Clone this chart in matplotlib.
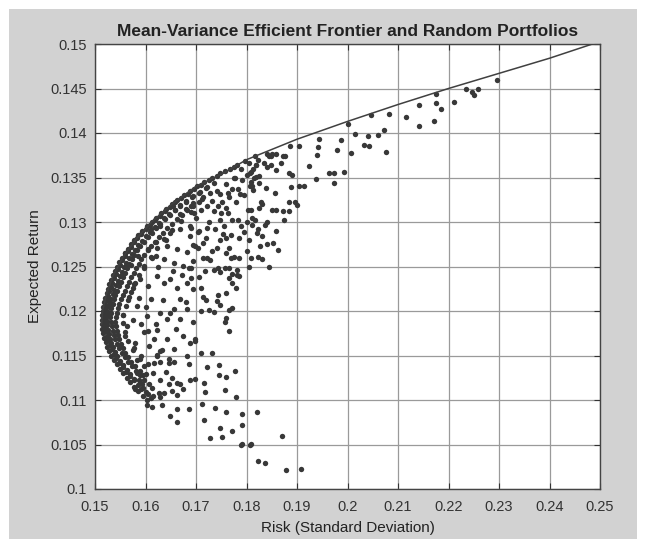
import matplotlib
matplotlib.use('Agg')
import matplotlib.pyplot as plt
from matplotlib.patches import Rectangle

# efficient frontier (risk, return)
frontier_risk = [0.1513, 0.1515, 0.1523, 0.1536, 0.1555, 0.1580, 0.1612, 0.1652, 0.1700,
                 0.1755, 0.1800, 0.1900, 0.2000, 0.2100, 0.2200, 0.2300, 0.2400, 0.2485]
frontier_ret = [0.1185, 0.1200, 0.1220, 0.1240, 0.1260, 0.1280, 0.1300, 0.1320, 0.1340,
                0.1355, 0.1370, 0.1393, 0.1413, 0.1432, 0.1450, 0.1467, 0.1484, 0.1500]

# dense band of portfolios hugging the frontier
band_risk = [
    0.1602, 0.1610,
    0.1595, 0.1604, 0.1615,
    0.1586, 0.1592, 0.1600, 0.1612,
    0.1578, 0.1585, 0.1596, 0.1606,
    0.1570, 0.1577, 0.1589, 0.1598,
    0.1563, 0.1569, 0.1578, 0.1590,
    0.1556, 0.1561, 0.1570, 0.1582, 0.1596,
    0.1549, 0.1555, 0.1563, 0.1574, 0.1590,
    0.1543, 0.1548, 0.1556, 0.1566, 0.1580,
    0.1537, 0.1542, 0.1550, 0.1559, 0.1572, 0.1590,
    0.1532, 0.1537, 0.1544, 0.1553, 0.1566,
    0.1528, 0.1533, 0.1540, 0.1548, 0.1560, 0.1575,
    0.1524, 0.1529, 0.1535, 0.1543, 0.1555,
    0.1521, 0.1526, 0.1532, 0.1540, 0.1551, 0.1566,
    0.1518, 0.1523, 0.1529, 0.1537, 0.1548,
    0.1516, 0.1521, 0.1527, 0.1535, 0.1545, 0.1560,
    0.1514, 0.1519, 0.1525, 0.1533, 0.1543,
    0.1513, 0.1518, 0.1524, 0.1531, 0.1541, 0.1556,
    0.1513, 0.1517, 0.1523, 0.1530, 0.1540,
    0.1514, 0.1518, 0.1523, 0.1531, 0.1542, 0.1555,
    0.1515, 0.1519, 0.1525, 0.1532, 0.1544,
    0.1516, 0.1521, 0.1527, 0.1535, 0.1546, 0.1562,
    0.1518, 0.1523, 0.1529, 0.1537, 0.1548,
    0.1520, 0.1525, 0.1532, 0.1540, 0.1552, 0.1568,
    0.1523, 0.1528, 0.1535, 0.1544, 0.1556,
    0.1525, 0.1531, 0.1538, 0.1548, 0.1560, 0.1575,
    0.1528, 0.1534, 0.1541, 0.1551, 0.1563, 0.1580,
    0.1531, 0.1537, 0.1545, 0.1555, 0.1568,
    0.1535, 0.1541, 0.1549, 0.1559, 0.1572, 0.1588,
    0.1539, 0.1545, 0.1553, 0.1563, 0.1577,
    0.1543, 0.1549, 0.1557, 0.1568, 0.1582, 0.1598,
    0.1548, 0.1554, 0.1562, 0.1573, 0.1587,
    0.1553, 0.1559, 0.1567, 0.1578, 0.1592, 0.1610,
    0.1559, 0.1565, 0.1573, 0.1584, 0.1598,
    0.1565, 0.1571, 0.1579, 0.1590, 0.1604, 0.1622,
    0.1571, 0.1577, 0.1586, 0.1597, 0.1611,
    0.1578, 0.1584, 0.1593, 0.1604, 0.1618, 0.1636,
    0.1586, 0.1592, 0.1601, 0.1612, 0.1626,
    0.1594, 0.1600, 0.1609, 0.1620, 0.1634, 0.1652,
    0.1602, 0.1609, 0.1618, 0.1629, 0.1643,
    0.1612, 0.1618, 0.1627, 0.1638, 0.1652, 0.1670,
    0.1621, 0.1628, 0.1637, 0.1648, 0.1662,
    0.1631, 0.1638, 0.1647, 0.1658, 0.1672, 0.1690,
    0.1641, 0.1648, 0.1658, 0.1669, 0.1683,
    0.1652, 0.1659, 0.1669, 0.1680, 0.1694,
    0.1663, 0.1671, 0.1681, 0.1692, 0.1706,
    0.1676, 0.1684, 0.1694, 0.1705,
    0.1689, 0.1697, 0.1707, 0.1720,
    0.1702, 0.1710, 0.1721,
    0.1716, 0.1725, 0.1736,
    0.1732, 0.1741,
    0.1748, 0.1757,
    0.1768, 0.1776,
    0.1782,
    0.1798,
    0.1817,
]
band_ret = [
    0.1100, 0.1102,
    0.1105, 0.1107, 0.1104,
    0.1110, 0.1112, 0.1109, 0.1113,
    0.1115, 0.1117, 0.1114, 0.1118,
    0.1120, 0.1122, 0.1119, 0.1123,
    0.1125, 0.1127, 0.1124, 0.1128,
    0.1130, 0.1132, 0.1129, 0.1133, 0.1128,
    0.1135, 0.1137, 0.1134, 0.1138, 0.1133,
    0.1140, 0.1142, 0.1139, 0.1143, 0.1138,
    0.1145, 0.1147, 0.1144, 0.1148, 0.1143, 0.1146,
    0.1150, 0.1152, 0.1149, 0.1153, 0.1148,
    0.1155, 0.1157, 0.1154, 0.1158, 0.1153, 0.1156,
    0.1160, 0.1162, 0.1159, 0.1163, 0.1158,
    0.1165, 0.1167, 0.1164, 0.1168, 0.1163, 0.1166,
    0.1170, 0.1172, 0.1169, 0.1173, 0.1168,
    0.1175, 0.1177, 0.1174, 0.1178, 0.1173, 0.1176,
    0.1180, 0.1182, 0.1179, 0.1183, 0.1178,
    0.1185, 0.1187, 0.1184, 0.1188, 0.1183, 0.1186,
    0.1190, 0.1192, 0.1189, 0.1193, 0.1188,
    0.1195, 0.1197, 0.1194, 0.1198, 0.1193, 0.1196,
    0.1200, 0.1202, 0.1199, 0.1203, 0.1198,
    0.1205, 0.1207, 0.1204, 0.1208, 0.1203, 0.1206,
    0.1210, 0.1212, 0.1209, 0.1213, 0.1208,
    0.1215, 0.1217, 0.1214, 0.1218, 0.1213, 0.1216,
    0.1220, 0.1222, 0.1219, 0.1223, 0.1218,
    0.1225, 0.1227, 0.1224, 0.1228, 0.1223, 0.1226,
    0.1230, 0.1232, 0.1229, 0.1233, 0.1228, 0.1231,
    0.1235, 0.1237, 0.1234, 0.1238, 0.1233,
    0.1240, 0.1242, 0.1239, 0.1243, 0.1238, 0.1241,
    0.1245, 0.1247, 0.1244, 0.1248, 0.1243,
    0.1250, 0.1252, 0.1249, 0.1253, 0.1248, 0.1251,
    0.1255, 0.1257, 0.1254, 0.1258, 0.1253,
    0.1260, 0.1262, 0.1259, 0.1263, 0.1258, 0.1261,
    0.1265, 0.1267, 0.1264, 0.1268, 0.1263,
    0.1270, 0.1272, 0.1269, 0.1273, 0.1268, 0.1271,
    0.1275, 0.1277, 0.1274, 0.1278, 0.1273,
    0.1280, 0.1282, 0.1279, 0.1283, 0.1278, 0.1281,
    0.1285, 0.1287, 0.1284, 0.1288, 0.1283,
    0.1290, 0.1292, 0.1289, 0.1293, 0.1288, 0.1291,
    0.1295, 0.1297, 0.1294, 0.1298, 0.1293,
    0.1300, 0.1302, 0.1299, 0.1303, 0.1298, 0.1301,
    0.1305, 0.1307, 0.1304, 0.1308, 0.1303,
    0.1310, 0.1312, 0.1309, 0.1313, 0.1308, 0.1311,
    0.1315, 0.1317, 0.1314, 0.1318, 0.1313,
    0.1320, 0.1322, 0.1319, 0.1323, 0.1318,
    0.1325, 0.1327, 0.1324, 0.1328, 0.1323,
    0.1330, 0.1332, 0.1329, 0.1333,
    0.1335, 0.1337, 0.1334, 0.1338,
    0.1340, 0.1342, 0.1339,
    0.1345, 0.1347, 0.1344,
    0.1350, 0.1352,
    0.1355, 0.1357,
    0.1360, 0.1362,
    0.1364,
    0.1369,
    0.1374,
]

# scattered random portfolios away from the frontier
rand_risk = [
    0.1699, 0.1709, 0.1732, 0.1686, 0.1722, 0.1745, 0.1778, 0.1745, 0.1760, 0.1689,
    0.1699, 0.1715, 0.1718, 0.1758, 0.1780, 0.1686, 0.1712, 0.1738, 0.1760, 0.1791,
    0.1821, 0.1715, 0.1791, 0.1747, 0.1771, 0.1728, 0.1751, 0.1791, 0.1808, 0.1870,
    0.1790, 0.1807, 0.1823, 0.1836, 0.1879, 0.1907,
    0.2296, 0.2234, 0.2247, 0.2250, 0.2258, 0.2210, 0.2175, 0.2185, 0.2175, 0.2142,
    0.2116, 0.2083, 0.2141, 0.2172, 0.2073, 0.2060, 0.2040, 0.2015, 0.2033, 0.2043,
    0.2076, 0.2007, 0.2001, 0.2046, 0.1987, 0.1980, 0.1944, 0.1942, 0.1940, 0.1904,
    0.1887, 0.1877, 0.1858, 0.1848, 0.1841, 0.1848, 0.1818, 0.1923, 0.1891, 0.1964,
    0.1974, 0.1993, 0.1937, 0.1974, 0.1904, 0.1914, 0.1825, 0.1815, 0.1811, 0.1808,
    0.1897, 0.1900, 0.1831, 0.1858, 0.1884, 0.1825, 0.1808, 0.1811,
    0.1852, 0.1827, 0.1830, 0.1836, 0.1823, 0.1808, 0.1804, 0.1785, 0.1785, 0.1782,
    0.1795, 0.1785, 0.1801, 0.1766, 0.1760, 0.1770, 0.1776, 0.1766, 0.1772, 0.1782,
    0.1766, 0.1772, 0.1779, 0.1760, 0.1744, 0.1741, 0.1747, 0.1766, 0.1772, 0.1757,
    0.1760, 0.1766, 0.1725, 0.1735, 0.1713, 0.1719, 0.1709, 0.1744, 0.1735, 0.1747,
    0.1757, 0.1728, 0.1722, 0.1713, 0.1741, 0.1732, 0.1754, 0.1760, 0.1747, 0.1719,
    0.1713, 0.1703, 0.1694, 0.1691, 0.1703, 0.1722, 0.1691, 0.1687, 0.1811, 0.1820,
    0.1872, 0.1884, 0.1844, 0.1850, 0.1834, 0.1819, 0.1813, 0.1806, 0.1800, 0.1791,
    0.1809, 0.1778, 0.1772, 0.1784, 0.1788, 0.1806, 0.1819, 0.1763, 0.1747, 0.1741,
    0.1728, 0.1731, 0.1744, 0.1759, 0.1713, 0.1709, 0.1697, 0.1691, 0.1803, 0.1816,
    0.1800, 0.1772, 0.1784, 0.1828, 0.1850, 0.1872, 0.1884, 0.1888, 0.1856, 0.1750,
    0.1763,
    0.1603, 0.1613, 0.1633, 0.1646, 0.1662, 0.1652, 0.1662, 0.1636, 0.1626, 0.1629,
    0.1669, 0.1674, 0.1649, 0.1662, 0.1662, 0.1616, 0.1629, 0.1646, 0.1656, 0.1623,
    0.1633, 0.1584, 0.1597, 0.1600, 0.1587, 0.1593, 0.1580, 0.1584,
    0.1623, 0.1636, 0.1649, 0.1662, 0.1682, 0.1669, 0.1656, 0.1629, 0.1642, 0.1623,
    0.1616, 0.1642, 0.1629, 0.1656, 0.1669, 0.1682, 0.1688, 0.1682, 0.1698, 0.1610,
    0.1603, 0.1597, 0.1607, 0.1623, 0.1646,
    0.1610, 0.1629, 0.1649, 0.1669, 0.1688, 0.1620, 0.1642, 0.1662, 0.1682, 0.1698,
    0.1613, 0.1636, 0.1656, 0.1675, 0.1695, 0.1571, 0.1584, 0.1564, 0.1580,
]
rand_ret = [
    0.1166, 0.1153, 0.1153, 0.1141, 0.1137, 0.1139, 0.1133, 0.1128, 0.1126, 0.1122,
    0.1124, 0.1119, 0.1109, 0.1111, 0.1103, 0.1090, 0.1095, 0.1091, 0.1086, 0.1084,
    0.1086, 0.1078, 0.1072, 0.1069, 0.1065, 0.1057, 0.1058, 0.1051, 0.1051, 0.1060,
    0.1049, 0.1049, 0.1032, 0.1029, 0.1021, 0.1022,
    0.1459, 0.1449, 0.1446, 0.1443, 0.1450, 0.1435, 0.1434, 0.1427, 0.1444, 0.1432,
    0.1418, 0.1421, 0.1408, 0.1414, 0.1403, 0.1398, 0.1397, 0.1399, 0.1386, 0.1385,
    0.1379, 0.1378, 0.1410, 0.1420, 0.1392, 0.1381, 0.1393, 0.1384, 0.1375, 0.1385,
    0.1385, 0.1374, 0.1376, 0.1374, 0.1376, 0.1364, 0.1364, 0.1363, 0.1353, 0.1355,
    0.1355, 0.1356, 0.1348, 0.1344, 0.1341, 0.1341, 0.1352, 0.1349, 0.1341, 0.1356,
    0.1322, 0.1319, 0.1320, 0.1314, 0.1312, 0.1316, 0.1314, 0.1305,
    0.1276, 0.1273, 0.1284, 0.1297, 0.1261, 0.1259, 0.1250, 0.1259, 0.1239, 0.1241,
    0.1289, 0.1282, 0.1267, 0.1271, 0.1265, 0.1259, 0.1261, 0.1248, 0.1242, 0.1246,
    0.1237, 0.1231, 0.1226, 0.1220, 0.1218, 0.1211, 0.1207, 0.1201, 0.1203, 0.1188,
    0.1192, 0.1177, 0.1201, 0.1199, 0.1216, 0.1212, 0.1226, 0.1248, 0.1246, 0.1244,
    0.1248, 0.1257, 0.1259, 0.1259, 0.1271, 0.1267, 0.1286, 0.1282, 0.1280, 0.1282,
    0.1276, 0.1271, 0.1274, 0.1293, 0.1289, 0.1293, 0.1237, 0.1248, 0.1297, 0.1288,
    0.1374, 0.1355, 0.1374, 0.1376, 0.1366, 0.1364, 0.1359, 0.1355, 0.1353, 0.1347,
    0.1345, 0.1349, 0.1337, 0.1337, 0.1331, 0.1341, 0.1351, 0.1333, 0.1331, 0.1335,
    0.1333, 0.1324, 0.1318, 0.1316, 0.1328, 0.1314, 0.1310, 0.1318, 0.1314, 0.1302,
    0.1300, 0.1302, 0.1302, 0.1322, 0.1314, 0.1312, 0.1322, 0.1339, 0.1333, 0.1310,
    0.1310,
    0.1094, 0.1092, 0.1094, 0.1118, 0.1119, 0.1110, 0.1106, 0.1108, 0.1108, 0.1103,
    0.1118, 0.1112, 0.1082, 0.1090, 0.1075, 0.1142, 0.1143, 0.1142, 0.1143, 0.1151,
    0.1156, 0.1145, 0.1138, 0.1129, 0.1123, 0.1118, 0.1112, 0.1130,
    0.1239, 0.1232, 0.1236, 0.1226, 0.1232, 0.1213, 0.1202, 0.1198, 0.1191, 0.1179,
    0.1168, 0.1168, 0.1155, 0.1157, 0.1191, 0.1202, 0.1164, 0.1149, 0.1168, 0.1213,
    0.1194, 0.1176, 0.1161, 0.1149, 0.1146,
    0.1292, 0.1296, 0.1288, 0.1292, 0.1284, 0.1277, 0.1273, 0.1270, 0.1266, 0.1273,
    0.1260, 0.1258, 0.1254, 0.1251, 0.1256, 0.1221, 0.1206, 0.1183, 0.1164,
]

# more portfolios filling the crowded middle of the cloud
extra_risk = [
    0.1655, 0.1668, 0.1680, 0.1695, 0.1712, 0.1722, 0.1700, 0.1688, 0.1705, 0.1725,
    0.1738, 0.1748, 0.1735, 0.1752, 0.1765, 0.1780, 0.1795, 0.1812, 0.1825, 0.1838,
    0.1760, 0.1776, 0.1790, 0.1805, 0.1823, 0.1840, 0.1858, 0.1868, 0.1755, 0.1770,
    0.1790, 0.1805, 0.1822, 0.1840, 0.1858, 0.1875, 0.1840, 0.1862, 0.1830, 0.1845,
    0.1560, 0.1572, 0.1585, 0.1598, 0.1590, 0.1605, 0.1578, 0.1565, 0.1588, 0.1600,
    0.1556, 0.1575, 0.1592, 0.1605, 0.1560, 0.1578, 0.1592, 0.1605, 0.1615, 0.1628,
    0.1640, 0.1652, 0.1620, 0.1635, 0.1648, 0.1660, 0.1675, 0.1655, 0.1672, 0.1690,
    0.1705, 0.1718, 0.1695, 0.1710, 0.1695, 0.1680, 0.1620, 0.1605, 0.1640, 0.1625,
]
extra_ret = [
    0.1318, 0.1309, 0.1315, 0.1321, 0.1326, 0.1318, 0.1305, 0.1296, 0.1290, 0.1300,
    0.1292, 0.1302, 0.1312, 0.1322, 0.1328, 0.1322, 0.1330, 0.1336, 0.1344, 0.1338,
    0.1343, 0.1349, 0.1360, 0.1366, 0.1370, 0.1362, 0.1358, 0.1366, 0.1295, 0.1285,
    0.1295, 0.1280, 0.1292, 0.1300, 0.1290, 0.1302, 0.1275, 0.1268, 0.1258, 0.1250,
    0.1265, 0.1252, 0.1262, 0.1248, 0.1236, 0.1228, 0.1230, 0.1212, 0.1215, 0.1205,
    0.1195, 0.1190, 0.1185, 0.1178, 0.1172, 0.1158, 0.1150, 0.1140, 0.1130, 0.1122,
    0.1132, 0.1125, 0.1185, 0.1212, 0.1198, 0.1180, 0.1172, 0.1245, 0.1240, 0.1248,
    0.1238, 0.1245, 0.1225, 0.1200, 0.1188, 0.1210, 0.1262, 0.1270, 0.1280, 0.1250,
]

x_ticks = [0.15, 0.16, 0.17, 0.18, 0.19, 0.2, 0.21, 0.22, 0.23, 0.24, 0.25]
x_labels = ['0.15', '0.16', '0.17', '0.18', '0.19', '0.2', '0.21', '0.22', '0.23', '0.24', '0.25']
y_ticks = [0.1, 0.105, 0.11, 0.115, 0.12, 0.125, 0.13, 0.135, 0.14, 0.145, 0.15]
y_labels = ['0.1', '0.105', '0.11', '0.115', '0.12', '0.125', '0.13', '0.135', '0.14', '0.145', '0.15']

plt.rcParams['font.family'] = ['Liberation Sans', 'DejaVu Sans']

fig = plt.figure(figsize=(6.49, 5.45), dpi=100, facecolor='white')
# grey figure panel inside a thin white border
fig.patches.append(Rectangle((9 / 649, 6 / 545), 628 / 649, 530 / 545,
                             transform=fig.transFigure, facecolor='#d2d2d2',
                             edgecolor='none', zorder=-5))

ax = fig.add_axes([95 / 649, 1 - 489 / 545, 505 / 649, 445 / 545])
ax.set_facecolor('white')

dot = dict(s=15, color='#383838', linewidths=0, zorder=3)
ax.scatter(band_risk, band_ret, **dot)
ax.scatter(rand_risk, rand_ret, **dot)
ax.scatter(extra_risk, extra_ret, **dot)
ax.plot(frontier_risk, frontier_ret, color='#404040', lw=1.1, zorder=4)

ax.set_xlim(0.15, 0.25)
ax.set_ylim(0.1, 0.15)
ax.set_xticks(x_ticks)
ax.set_xticklabels(x_labels)
ax.set_yticks(y_ticks)
ax.set_yticklabels(y_labels)
ax.tick_params(direction='in', length=4, labelsize=10.5, colors='#333333',
               top=True, right=True)
ax.tick_params(axis='x', pad=8)
ax.tick_params(axis='y', pad=6)
ax.grid(True, color='#9a9a9a', lw=0.9)
ax.set_axisbelow(True)
for s in ax.spines.values():
    s.set_color('#444444')
    s.set_linewidth(1.0)

ax.set_title('Mean-Variance Efficient Frontier and Random Portfolios',
             fontsize=12.5, fontweight='bold', color='#222222', pad=6)
ax.set_xlabel('Risk (Standard Deviation)', fontsize=11, color='#222222', labelpad=5)
ax.set_ylabel('Expected Return', fontsize=11, color='#222222', labelpad=6)

fig.savefig('out.png', dpi=100, facecolor=fig.get_facecolor())
